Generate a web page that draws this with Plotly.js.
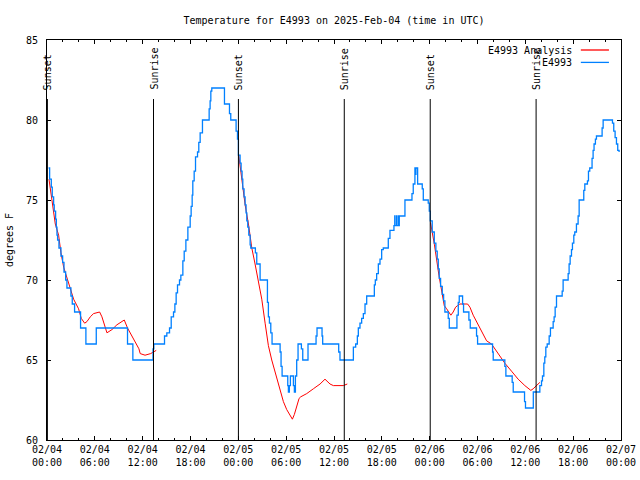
<!DOCTYPE html>
<html>
<head>
<meta charset="utf-8">
<script src="https://cdn.plot.ly/plotly-3.0.1.min.js"></script>
<style>html,body{margin:0;padding:0;background:#fff}#chart{width:640px;height:480px}</style>
</head>
<body>
<div id="chart"></div>
<script>
// Hours since 2025-02-04 00:00 UTC
const BASE_UTC = Date.UTC(2025, 1, 4, 0, 0, 0);

// E4993 observations (step series)
const blueHours = [0.20,0.33,0.54,0.66,0.83,0.91,1.08,1.17,1.25,1.33,1.50,1.75,1.96,2.13,2.34,2.50,3.00,3.17,3.46,4.21,4.88,6.18,10.10,10.77,13.30,13.40,
14.74,15.03,15.37,15.58,15.87,16.04,16.20,16.37,16.62,16.79,17.04,17.21,17.42,17.67,17.96,18.08,18.21,18.29,18.46,18.63,18.88,19.04,19.21,19.50,20.34,20.46,20.55,20.67,22.26,22.89,23.05,
23.72,23.89,24.01,24.22,24.35,24.47,24.56,24.72,24.85,24.97,25.06,25.18,25.31,25.48,25.56,26.14,26.31,26.73,27.65,27.77,27.90,28.07,28.23,29.24,29.36,29.49,30.20,30.28,30.40,30.53,30.91,31.03,31.16,31.32,31.49,31.91,32.08,32.74,33.75,33.87,34.50,34.58,36.59,36.75,
38.43,38.72,38.93,39.05,39.26,39.47,39.68,39.89,40.10,41.06,41.18,41.35,41.56,41.77,41.98,42.18,42.81,43.02,43.52,43.62,43.64,43.84,43.86,44.06,44.08,44.19,44.90,45.78,45.94,46.15,46.22,46.28,46.49,47.07,47.20,47.82,47.95,
48.07,48.32,48.58,48.78,48.95,49.08,49.20,49.37,49.58,49.75,49.91,50.33,50.46,51.42,51.59,51.71,52.13,52.25,52.92,53.09,53.88,54.01,55.89,55.97,57.43,57.56,58.35,58.48,59.90,60.02,61.00,61.82,
62.03,62.15,62.32,62.44,62.57,62.74,62.99,63.15,63.49,63.61,63.74,63.91,64.62,64.74,65.37,65.49,65.62,65.79,65.91,66.08,66.20,66.41,66.62,66.75,67.33,67.46,67.79,67.92,68.08,68.37,68.50,68.62,68.79,68.92,69.63,69.76,70.93,71.09,71.26,71.43,71.59,71.76];
const blueTemps = [77.0,76.3,75.8,75.2,74.7,74.3,73.8,73.3,72.8,72.5,72.0,71.5,71.1,70.5,70.0,69.5,69.0,68.5,68.0,67.0,66.0,67.0,66.0,65.0,65.7,66.0,
66.5,66.7,67.0,67.7,68.0,68.5,69.2,69.7,70.0,70.3,71.2,71.8,72.5,73.3,74.0,74.6,75.3,76.2,76.8,77.7,78.0,78.6,79.2,80.0,80.7,81.2,81.8,82.0,81.0,80.4,80.0,
79.3,78.8,77.8,77.3,76.8,76.3,75.7,75.2,74.7,74.2,73.7,73.3,72.8,72.2,72.0,71.7,71.0,70.0,68.6,67.7,67.3,66.7,66.0,65.5,64.6,64.0,63.4,63.0,63.4,64.0,63.4,63.0,64.0,65.0,66.0,65.7,65.0,66.0,66.5,67.0,66.5,66.0,65.5,65.0,
65.8,66.0,66.5,67.0,67.3,67.6,67.9,68.5,69.0,69.7,70.0,70.4,71.0,71.3,71.9,72.0,72.6,73.1,73.4,74.0,73.4,74.0,73.4,74.0,73.4,74.0,75.0,75.4,76.0,77.0,76.6,77.0,76.0,75.7,75.0,74.8,74.3,
73.7,73.0,72.3,71.8,71.3,70.7,70.1,69.6,69.1,68.7,68.0,67.6,67.0,67.8,68.6,69.0,68.5,68.0,67.5,67.0,66.5,66.0,65.5,65.0,64.6,64.0,63.6,63.0,62.4,62.0,63.0,63.4,
63.7,64.0,64.8,65.2,65.8,66.0,66.5,67.0,67.4,67.7,68.3,69.0,69.3,70.0,70.4,71.0,71.5,71.9,72.3,72.8,73.0,73.5,74.0,75.0,75.6,76.0,76.2,76.8,77.0,77.6,78.1,78.5,78.8,79.0,79.5,80.0,79.8,79.3,78.9,78.5,78.1,78.0];

// E4993 Analysis (night-time segments, null = gap)
const redHours = [0.25,0.70,1.04,1.46,1.75,2.09,2.42,2.92,3.34,3.96,4.30,4.72,5.01,5.43,5.84,6.60,6.89,7.52,8.15,8.77,9.69,10.10,11.53,11.69,12.30,13.00,13.30,13.70,null,
24.05,24.85,25.27,25.69,26.10,26.52,26.94,27.36,27.77,28.19,28.82,29.24,29.65,30.07,30.49,30.78,31.03,31.33,31.62,31.83,32.58,33.41,34.25,34.87,35.50,35.92,37.17,37.67,null,
48.10,48.60,49.16,49.41,49.58,49.70,49.83,50.13,50.41,50.66,50.95,51.25,51.50,51.79,52.76,53.05,53.46,54.09,54.71,55.14,55.76,56.18,56.81,57.43,58.27,59.10,59.94,60.69,60.98,61.40,61.82];
const redTemps = [76.3,74.7,73.5,72.8,71.7,70.8,70.3,69.4,68.8,68.2,67.6,67.3,67.4,67.7,67.9,68.0,67.7,66.7,66.9,67.2,67.5,67.0,65.7,65.4,65.3,65.4,65.5,65.6,null,
77.8,74.7,73.5,72.0,71.0,70.0,68.8,67.3,65.9,65.0,63.9,63.2,62.4,61.9,61.5,61.3,61.6,62.1,62.6,62.7,62.9,63.2,63.5,63.8,63.5,63.4,63.4,63.5,null,
73.6,72.2,70.3,69.6,69.1,68.7,68.4,68.2,68.0,67.8,68.0,68.3,68.4,68.5,68.5,68.3,67.8,67.2,66.6,66.2,66.0,65.7,65.2,64.8,64.3,63.8,63.4,63.1,63.2,63.4,63.6];

// Sunset / sunrise markers
const sunHours = [0.05, 13.36, 24.01, 37.29, 48.07, 61.35];
const sunLabels = ["Sunset","Sunrise","Sunset","Sunrise","Sunset","Sunrise"];

const seriesNames = ["E4993 Analysis", "E4993"];
const seriesColors = ["#ff0000", "#0080ff"];

function toDate(h) {
  if (h === null) return null;
  return new Date(BASE_UTC + Math.round(h * 3600000)).toISOString().slice(0, 19).replace('T', ' ');
}

const FONT = "DejaVu Sans Mono";

const traces = [
  {x: redHours.map(toDate), y: redTemps, type: 'scatter', mode: 'lines', name: seriesNames[0],
   line: {color: seriesColors[0], width: 1}, connectgaps: false, showlegend: false},
  {x: blueHours.map(toDate), y: blueTemps, type: 'scatter', mode: 'lines', name: seriesNames[1],
   line: {color: seriesColors[1], width: 1.3, shape: 'hv'}, showlegend: false}
];

const shapes = sunHours.map(h => ({
  type: 'line', xref: 'x', yref: 'paper', x0: toDate(h), x1: toDate(h), y0: 0, y1: 0.8525,
  line: {color: 'black', width: 1}
}));
const annotations = sunHours.map((h, i) => ({
  x: toDate(h), xref: 'x', y: 0.87, yref: 'paper', text: sunLabels[i], textangle: -90,
  showarrow: false, xanchor: 'center', yanchor: 'bottom', font: {family: FONT, size: 10, color: 'black'}
}));

// manual legend (text left of line sample, as in the original)
const legY = [0.975, 0.944];
seriesNames.forEach((n, i) => {
  annotations.push({x: 0.918, xref: 'paper', y: legY[i], yref: 'paper', text: n, showarrow: false,
    xanchor: 'right', yanchor: 'middle', font: {family: FONT, size: 10, color: 'black'}});
  shapes.push({type: 'line', xref: 'paper', yref: 'paper', x0: 0.930, x1: 0.979, y0: legY[i], y1: legY[i],
    line: {color: seriesColors[i], width: 1.3}});
});

const axisCommon = {
  showgrid: false, zeroline: false, showline: true, linecolor: 'black', linewidth: 1,
  mirror: 'ticks', ticks: 'inside', ticklen: 4, tickcolor: 'black', tickwidth: 1,
  tickfont: {family: FONT, size: 10, color: 'black'}
};

const layout = {
  width: 640, height: 480,
  paper_bgcolor: 'white', plot_bgcolor: 'white',
  margin: {l: 47, r: 19, t: 40, b: 40},
  font: {family: FONT, size: 10, color: 'black'},
  title: {text: 'Temperature for E4993 on 2025-Feb-04 (time in UTC)', x: 0.5, xref: 'paper', xanchor: 'center',
          y: 0.958, yref: 'container', yanchor: 'middle', font: {family: FONT, size: 10, color: 'black'}},
  xaxis: Object.assign({}, axisCommon, {
    type: 'date', range: [toDate(0), toDate(72)], tick0: toDate(0), dtick: 6 * 3600000,
    tickformat: '%m/%d<br>%H:%M',
    minor: {dtick: 2 * 3600000, ticks: 'inside', ticklen: 2, tickcolor: 'black', showgrid: false}
  }),
  yaxis: Object.assign({}, axisCommon, {
    range: [60, 85], dtick: 5, tick0: 60, ticksuffix: '\u00a0',
    title: {text: 'degrees F', font: {family: FONT, size: 10, color: 'black'}, standoff: 10}
  }),
  showlegend: false,
  shapes: shapes,
  annotations: annotations
};

Plotly.newPlot('chart', traces, layout, {displayModeBar: false, staticPlot: true});
</script>
</body>
</html>
